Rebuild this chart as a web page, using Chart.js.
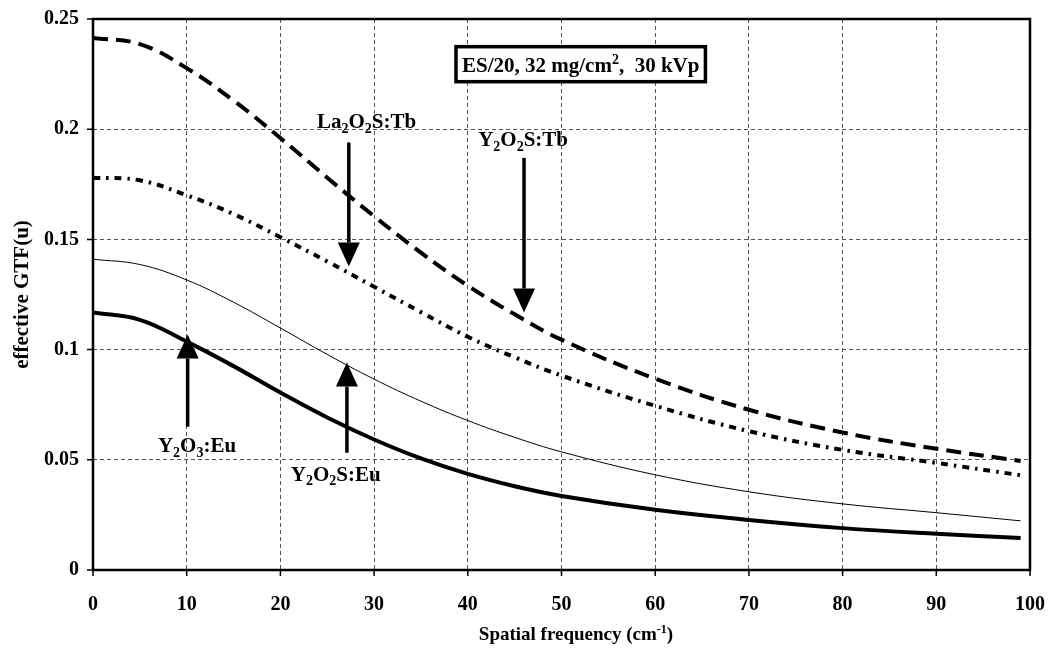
<!DOCTYPE html>
<html>
<head>
<meta charset="utf-8">
<script src="https://cdn.jsdelivr.net/npm/chart.js@4"></script>
<style>
  html, body { margin: 0; padding: 0; background: #fff; }
  canvas { display: block; }
</style>
</head>
<body>
<canvas id="gtf" width="1051" height="649"></canvas>
<script>
// spatial frequency (cm-1) and effective GTF(u) per phosphor
const freq = [0, 5, 10, 15, 20, 25, 30, 35, 40, 45, 50, 60, 70, 80, 90, 99];
const y2o2sTb = [0.2414, 0.2386, 0.2277, 0.213, 0.196, 0.178, 0.1605, 0.144, 0.129, 0.116, 0.1045, 0.0868, 0.0727, 0.0624, 0.0550, 0.0495];
const la2o2sTb = [0.178, 0.1768, 0.170, 0.1615, 0.151, 0.140, 0.1285, 0.117, 0.1058, 0.0965, 0.0882, 0.0745, 0.0630, 0.0545, 0.0486, 0.0430];
const y2o2sEu = [0.141, 0.1386, 0.1316, 0.1215, 0.1098, 0.0978, 0.0866, 0.0766, 0.0678, 0.0602, 0.0536, 0.0432, 0.0355, 0.0300, 0.0260, 0.0223];
const y2o3Eu = [0.1168, 0.1135, 0.1036, 0.0925, 0.0805, 0.0692, 0.0592, 0.0506, 0.0436, 0.038, 0.0336, 0.0273, 0.0227, 0.0190, 0.0164, 0.0145];

const xTickLabels = ['0', '10', '20', '30', '40', '50', '60', '70', '80', '90', '100'];
const yTickLabels = ['0', '0.05', '0.1', '0.15', '0.2', '0.25'];

const FONT = 'Liberation Serif, Times New Roman, serif';

// arrows: x, from y, tip y (data units)
const arrows = [
  { x: 27.3, y0: 0.194, y1: 0.1377 },
  { x: 46.0, y0: 0.187, y1: 0.1168 },
  { x: 10.1, y0: 0.065, y1: 0.1068 },
  { x: 27.1, y0: 0.0532, y1: 0.0941 }
];
// labels: parts [text, 0 normal | -1 sub | 1 sup]
const notes = [
  { x: 29.2, y: 0.2035, parts: [['La', 0], ['2', -1], ['O', 0], ['2', -1], ['S:Tb', 0]] },
  { x: 45.9, y: 0.1955, parts: [['Y', 0], ['2', -1], ['O', 0], ['2', -1], ['S:Tb', 0]] },
  { x: 11.1, y: 0.0565, parts: [['Y', 0], ['2', -1], ['O', 0], ['3', -1], [':Eu', 0]] },
  { x: 25.9, y: 0.0437, parts: [['Y', 0], ['2', -1], ['O', 0], ['2', -1], ['S:Eu', 0]] }
];

function pts(ys) {
  return freq.map((f, i) => ({ x: f, y: ys[i] }));
}

function richWidth(ctx, parts, size) {
  let w = 0;
  parts.forEach(([t, k]) => {
    ctx.font = 'bold ' + (k ? Math.round(size * 0.65) : size) + 'px ' + FONT;
    w += ctx.measureText(t).width;
  });
  return w;
}

function drawRich(ctx, parts, cx, cy, size) {
  const w = richWidth(ctx, parts, size);
  let x = cx - w / 2;
  const base = cy + size * 0.33;
  ctx.textBaseline = 'alphabetic';
  ctx.textAlign = 'left';
  ctx.fillStyle = '#000';
  parts.forEach(([t, k]) => {
    const s = k ? Math.round(size * 0.65) : size;
    ctx.font = 'bold ' + s + 'px ' + FONT;
    const dy = k === -1 ? size * 0.22 : (k === 1 ? -size * 0.4 : 0);
    ctx.fillText(t, x, base + dy);
    x += ctx.measureText(t).width;
  });
  return w;
}

const decor = {
  id: 'decor',
  afterDatasetsDraw(chart) {
    const { ctx, scales: { x, y } } = chart;
    ctx.save();
    // arrows
    arrows.forEach(a => {
      const px = x.getPixelForValue(a.x);
      const p0 = y.getPixelForValue(a.y0);
      const p1 = y.getPixelForValue(a.y1);
      const dir = p1 > p0 ? 1 : -1;
      const headLen = 24, headW = 11;
      ctx.strokeStyle = '#000';
      ctx.lineWidth = 3.5;
      ctx.beginPath();
      ctx.moveTo(px, p0);
      ctx.lineTo(px, p1 - dir * headLen);
      ctx.stroke();
      ctx.fillStyle = '#000';
      ctx.beginPath();
      ctx.moveTo(px, p1);
      ctx.lineTo(px - headW, p1 - dir * headLen);
      ctx.lineTo(px + headW, p1 - dir * headLen);
      ctx.closePath();
      ctx.fill();
    });
    notes.forEach(n => {
      drawRich(ctx, n.parts, x.getPixelForValue(n.x), y.getPixelForValue(n.y), 21);
    });
    // info box
    const boxParts = [['ES/20, 32 mg/cm', 0], ['2', 1], [',  30 kVp', 0]];
    const bx = x.getPixelForValue(52.05), by = y.getPixelForValue(0.2295);
    const bw = richWidth(ctx, boxParts, 21) + 12;
    const bh = 35;
    ctx.fillStyle = '#fff';
    ctx.fillRect(bx - bw / 2, by - bh / 2, bw, bh);
    ctx.strokeStyle = '#000';
    ctx.lineWidth = 3.5;
    ctx.strokeRect(bx - bw / 2, by - bh / 2, bw, bh);
    drawRich(ctx, boxParts, bx, by + 1, 21);
    ctx.restore();
  },
  afterDraw(chart) {
    const { ctx, chartArea: ca, scales: { x, y } } = chart;
    ctx.save();
    ctx.strokeStyle = '#000';
    ctx.lineWidth = 1.5;
    // tick marks
    ctx.beginPath();
    x.ticks.forEach(t => {
      const px = x.getPixelForValue(t.value);
      ctx.moveTo(px, ca.bottom);
      ctx.lineTo(px, ca.bottom + 6);
    });
    y.ticks.forEach(t => {
      const py = y.getPixelForValue(t.value);
      ctx.moveTo(ca.left - 6, py);
      ctx.lineTo(ca.left, py);
    });
    ctx.stroke();
    // frame
    ctx.lineWidth = 2.5;
    ctx.strokeRect(ca.left, ca.top, ca.right - ca.left, ca.bottom - ca.top);
    // axis titles
    drawRich(ctx, [['Spatial frequency (cm', 0], ['-1', 1], [')', 0]], 576, 634, 19);
    ctx.translate(21, (ca.top + ca.bottom) / 2);
    ctx.rotate(-Math.PI / 2);
    drawRich(ctx, [['effective GTF(u)', 0]], 0, 0, 21);
    ctx.restore();
  }
};

new Chart(document.getElementById('gtf'), {
  type: 'line',
  data: {
    datasets: [
      { label: 'Y2O2S:Tb', data: pts(y2o2sTb), borderColor: '#000', borderWidth: 4, borderDash: [15, 8] },
      { label: 'La2O2S:Tb', data: pts(la2o2sTb), borderColor: '#000', borderWidth: 4, borderDash: [7, 6, 2.5, 6] },
      { label: 'Y2O2S:Eu', data: pts(y2o2sEu), borderColor: '#000', borderWidth: 1 },
      { label: 'Y2O3:Eu', data: pts(y2o3Eu), borderColor: '#000', borderWidth: 4 }
    ]
  },
  options: {
    responsive: false,
    animation: false,
    elements: { point: { radius: 0 }, line: { tension: 0.4 } },
    layout: { padding: { top: 19, right: 21, left: 0, bottom: 0 } },
    plugins: { legend: { display: false }, tooltip: { enabled: false } },
    scales: {
      x: {
        type: 'linear', min: 0, max: 100,
        afterFit: s => { s.height = 79; s.paddingLeft = 0; s.paddingRight = 0; },
        grid: { color: '#555', lineWidth: 1, drawTicks: false },
        border: { display: false, dash: [4, 3] },
        ticks: {
          stepSize: 10, padding: 23, color: '#000', maxRotation: 0,
          font: { family: FONT, size: 20, weight: 'bold' },
          callback: (v, i) => xTickLabels[i]
        }
      },
      y: {
        min: 0, max: 0.25,
        afterFit: s => { s.width = 93; s.paddingTop = 0; s.paddingBottom = 0; },
        grid: { color: '#555', lineWidth: 1, drawTicks: false },
        border: { display: false, dash: [4, 3] },
        ticks: {
          stepSize: 0.05, padding: 14, color: '#000',
          font: { family: FONT, size: 20, weight: 'bold' },
          callback: (v, i) => yTickLabels[i]
        }
      }
    }
  },
  plugins: [decor]
});
</script>
</body>
</html>
